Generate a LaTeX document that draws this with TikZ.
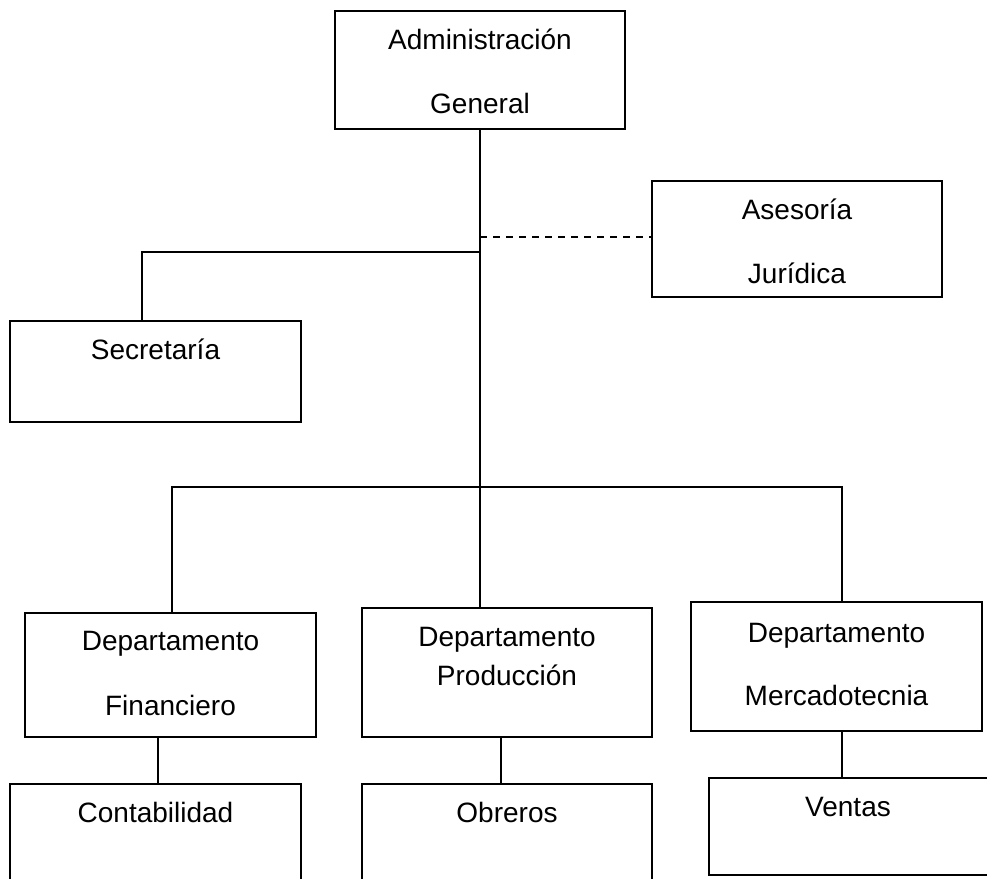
\documentclass[tikz,border=0pt]{standalone}
\usepackage{fontspec}
\setmainfont{Liberation Sans}
\begin{document}
\begin{tikzpicture}[x=1pt,y=-1pt,
  box/.style={draw, line width=1.5pt, inner sep=0pt, outer sep=0pt, anchor=north west},
  lbl/.style={anchor=base, inner sep=0pt, font=\fontsize{28}{34}\selectfont},
  wire/.style={line width=1.5pt},
  dashwire/.style={line width=1.5pt, dash pattern=on 7pt off 6pt}]
\useasboundingbox (0,0) rectangle (987,878);
\clip (0,0) rectangle (987,878);
% boxes
\node[box, minimum width=290pt, minimum height=118pt] (ag)   at (335,11)  {};
\node[box, minimum width=290pt, minimum height=116pt] (ase)  at (652,181) {};
\node[box, minimum width=291pt, minimum height=101pt] (sec)  at (10,321)  {};
\node[box, minimum width=291pt, minimum height=124pt] (fin)  at (25,613)  {};
\node[box, minimum width=290pt, minimum height=129pt] (prod) at (362,608) {};
\node[box, minimum width=291pt, minimum height=129pt] (merc) at (691,602) {};
\node[box, minimum width=291pt, minimum height=120pt] (cont) at (10,784)  {};
\node[box, minimum width=290pt, minimum height=120pt] (obr)  at (362,784) {};
\node[box, minimum width=290pt, minimum height=97pt]  (ven)  at (709,778) {};
% labels
\node[lbl] (agA) at (480,49)  {Administración};
\node[lbl] (agB) at (480,113) {General};
\node[lbl] (aseA) at (797,219) {Asesoría};
\node[lbl] (aseB) at (797,283) {Jurídica};
\node[lbl] (secA) at (155.5,359) {Secretaría};
\node[lbl] (finA) at (170.5,650) {Departamento};
\node[lbl] (finB) at (170.5,715) {Financiero};
\node[lbl] (prodA) at (507,646) {Departamento};
\node[lbl] (prodB) at (507,685) {Producción};
\node[lbl] (mercA) at (836.5,642) {Departamento};
\node[lbl] (mercB) at (836.5,705) {Mercadotecnia};
\node[lbl] (contA) at (155.5,822) {Contabilidad};
\node[lbl] (obrA) at (507,822) {Obreros};
\node[lbl] (venA) at (848,816) {Ventas};
% junctions
\coordinate (jase) at (480,237);
\coordinate (jsec) at (480,252);
\coordinate (jbus) at (480,487);
\coordinate (secT) at (142,321);
\coordinate (finT) at (172,613);
\coordinate (mercT) at (842,602);
\coordinate (finBot) at (158,737);
\coordinate (prodBot) at (501,737);
% connectors
\draw[wire] (ag.south) -- (ag.south |- prod.north);
\draw[dashwire] (jase) -- (ase.west |- jase);
\draw[wire] (jsec) -| (secT);
\draw[wire] (finT) |- (jbus) -| (mercT);
\draw[wire] (finBot) -- (finBot |- cont.north);
\draw[wire] (prodBot) -- (prodBot |- obr.north);
\draw[wire] (mercT |- merc.south) -- (mercT |- ven.north);
\end{tikzpicture}
\end{document}
